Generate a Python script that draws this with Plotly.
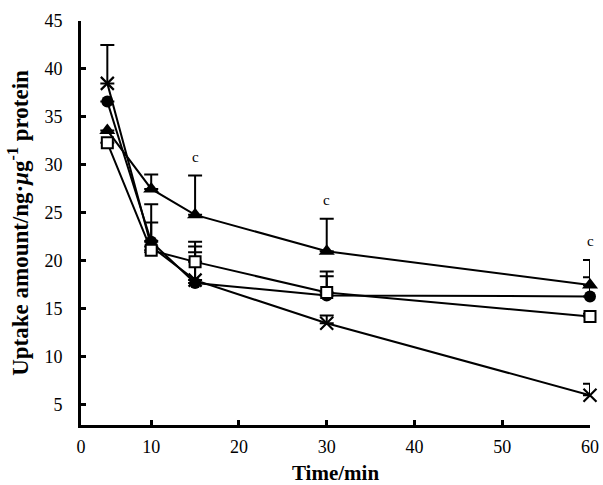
import plotly.graph_objects as go

time_min = [5, 10, 15, 30, 60]

cross_vals = [38.5, 21.5, 18.0, 13.5, 6.0]
cross_err = [4.0, 4.4, 3.5, 0.8, 1.2]

circle_vals = [36.6, 22.0, 17.7, 16.4, 16.3]
circle_err = [0.0, 2.0, 4.3, 2.5, 2.0]

triangle_vals = [33.6, 27.5, 24.8, 21.0, 17.5]
triangle_err = [0.0, 1.5, 4.1, 3.4, 2.6]

square_vals = [32.3, 21.1, 19.9, 16.7, 14.2]
square_err = [0.0, 0.0, 1.0, 1.7, 0.3]

sig_x = [15, 30, 60]
sig_label = ["c", "c", "c"]

x_tick_vals = [2, 10, 20, 30, 40, 50, 60]
x_tick_text = ["0", "10", "20", "30", "40", "50", "60"]
y_tick_vals = [5, 10, 15, 20, 25, 30, 35, 40, 45]

series = [
    (cross_vals, cross_err, dict(symbol="x-thin-open", size=13, line=dict(width=2.2, color="black"), color="black")),
    (circle_vals, circle_err, dict(symbol="circle", size=12, color="black", line=dict(width=0))),
    (triangle_vals, triangle_err, dict(symbol="triangle-up", size=14, color="black", line=dict(width=0))),
    (square_vals, square_err, dict(symbol="square", size=11, color="white", line=dict(width=2, color="black"))),
]

fig = go.Figure()
for vals, err, mk in series:
    fig.add_trace(go.Scatter(
        x=time_min, y=vals, mode="lines+markers",
        line=dict(color="black", width=2),
        marker=mk,
        error_y=dict(type="data", symmetric=False, array=err, arrayminus=[0] * len(err),
                     color="black", thickness=2, width=7),
        cliponaxis=False, showlegend=False,
    ))

tri_map = dict(zip(time_min, zip(triangle_vals, triangle_err)))
for xv, lab in zip(sig_x, sig_label):
    v, e = tri_map[xv]
    fig.add_annotation(x=xv, y=v + e, text=lab, showarrow=False, yanchor="bottom", yshift=9,
                       font=dict(family="Liberation Serif", size=15, color="black"))

tick_font = dict(family="Liberation Serif", size=18, color="black")
fig.update_layout(
    width=603, height=485,
    margin=dict(l=81, r=13, t=21, b=60),
    paper_bgcolor="white", plot_bgcolor="white",
    font=tick_font,
    xaxis=dict(range=[2, 60], tickvals=x_tick_vals, ticktext=x_tick_text, automargin=False,
               showline=True, linecolor="black", linewidth=3, ticks="inside", ticklen=5, tickwidth=3,
               tickcolor="black", showgrid=False, zeroline=False, tickfont=tick_font,
               ticklabelstandoff=3,
               title=dict(text="<b>Time/min</b>", font=dict(family="Liberation Serif", size=21), standoff=16)),
    yaxis=dict(range=[2.9, 45], tickvals=y_tick_vals, automargin=False,
               showline=True, linecolor="black", linewidth=3, ticks="inside", ticklen=5, tickwidth=3,
               tickcolor="black", showgrid=False, zeroline=False, tickfont=tick_font,
               ticklabelstandoff=12,
               title=dict(text="<b>Uptake amount/ng·<i>μ</i>g<sup>-1</sup> protein</b>",
                          font=dict(family="Liberation Serif", size=23), standoff=10)),
)

fig.write_html("out.html", config={"displayModeBar": False},
               post_script="document.body.style.margin='0';")
